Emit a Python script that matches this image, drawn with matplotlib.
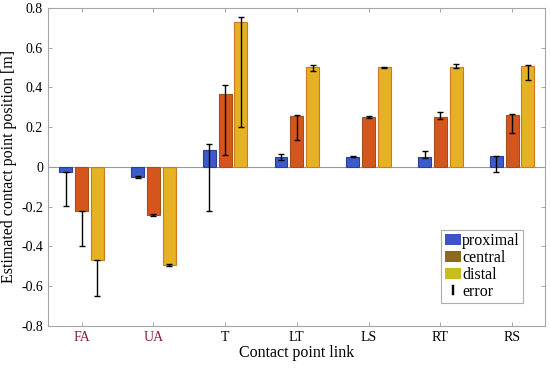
import matplotlib.pyplot as plt
import numpy as np
from matplotlib.patches import Patch
from matplotlib.lines import Line2D

plt.rcParams['font.family'] = ['Liberation Serif', 'DejaVu Serif']

# data
links = ["FA", "UA", "T", "LT", "LS", "RT", "RS"]
proximal = [-0.025, -0.05, 0.085, 0.05, 0.05, 0.048, 0.055]
central = [-0.22, -0.245, 0.365, 0.255, 0.25, 0.25, 0.26]
distal = [-0.47, -0.495, 0.73, 0.50, 0.50, 0.50, 0.505]
# error extents below / above the bar value
prox_lo = [0.17, 0.005, 0.305, 0.015, 0.003, 0.003, 0.08]
prox_hi = [0.0, 0.005, 0.03, 0.015, 0.003, 0.032, 0.0]
cent_lo = [0.18, 0.005, 0.305, 0.12, 0.003, 0.01, 0.09]
cent_hi = [0.0, 0.005, 0.045, 0.005, 0.003, 0.025, 0.005]
dist_lo = [0.18, 0.005, 0.53, 0.02, 0.003, 0.005, 0.07]
dist_hi = [0.0, 0.005, 0.025, 0.01, 0.003, 0.015, 0.005]

fig = plt.figure(figsize=(5.5, 3.69), dpi=100)
ax = fig.add_axes([0.087, 0.117, 0.904, 0.862])

x = np.arange(1, len(links) + 1)
off = 0.22
w = 0.18
series = [
    (proximal, prox_lo, prox_hi, -off, '#3b5bc8', '#2a3f9a'),
    (central, cent_lo, cent_hi, 0.0, '#d5561c', '#a0521a'),
    (distal, dist_lo, dist_hi, off, '#e4b222', '#d07a20'),
]
for vals, lo, hi, dx, fc, ec in series:
    ax.bar(x + dx, vals, width=w, color=fc, edgecolor=ec, linewidth=0.8, zorder=2)
    ax.errorbar(x + dx, vals, yerr=[lo, hi], fmt='none', ecolor='black',
                elinewidth=1.0, capsize=2, capthick=1.0, zorder=3)

ax.axhline(0, color='#9a9a9a', linewidth=0.8, zorder=1)
ax.set_xlim(0.53, 7.46)
ax.set_ylim(-0.8, 0.8)
ax.set_xticks(x)
ax.set_xticklabels(links)
for lab in ax.get_xticklabels()[:2]:
    lab.set_color('#8c1c3c')
ax.set_yticks(np.arange(-0.8, 0.81, 0.2))
ax.set_yticklabels(["-0.8", "-0.6", "-0.4", "-0.2", "0", "0.2", "0.4", "0.6", "0.8"])
ax.tick_params(direction='in', top=True, right=True, length=3, labelsize=10,
               color='#9a9a9a', width=0.6)
for s in ax.spines.values():
    s.set_color('#a6a6a6')
    s.set_linewidth(0.8)
ax.set_xlabel("Contact point link", fontsize=11.5, labelpad=1)
ax.set_ylabel("Estimated contact point position [m]", fontsize=11.5, labelpad=3)

handles = [
    Patch(facecolor='#3b55c8', edgecolor='none', label='proximal'),
    Patch(facecolor='#8c6a1c', edgecolor='none', label='central'),
    Patch(facecolor='#c8bc1e', edgecolor='none', label='distal'),
    Line2D([], [], ls='none', marker='$\\mathrm{I}$', color='black', markersize=7,
           markeredgewidth=0.3, label='error'),
]
leg = ax.legend(handles=handles, loc='lower right', bbox_to_anchor=(0.956, 0.072),
                fontsize=11.5, frameon=True, fancybox=False, edgecolor='#9a9a9a',
                handlelength=1.0, handletextpad=0.1, borderpad=0.2, labelspacing=0.05,
                borderaxespad=0)
leg.get_frame().set_linewidth(0.8)

fig.savefig("out.png", dpi=100)
